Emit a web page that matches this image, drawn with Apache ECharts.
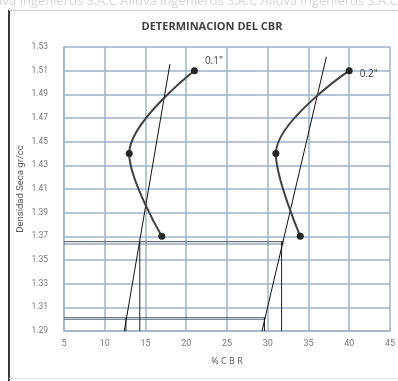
<!DOCTYPE html>
<html><head><meta charset="utf-8">
<script src="https://cdn.jsdelivr.net/npm/echarts@6/dist/echarts.min.js"></script>
<style>html,body{margin:0;padding:0;background:#fff}#c{width:398px;height:381px}</style>
</head><body><div id="c"></div>
<script>
// Curves (CBR %, dry density)
const cbr01 = [21, 13, 17];
const dens01 = [1.51, 1.44, 1.37];
const cbr02 = [40, 31, 34];
const dens02 = [1.51, 1.44, 1.37];
// Straight helper lines
const trend01X = [18.0, 12.4];
const trend01Y = [1.5156, 1.29];
const trend02X = [37.2, 29.3];
const trend02Y = [1.5218, 1.29];
const hLineLevels = [1.3655, 1.3635, 1.3012, 1.2998];
const hLineEnds = [32.0, 32.0, 29.7, 29.7];
const vLineX = [14.3, 31.7, 12.6, 29.6];
const vLineTop = [1.3655, 1.3655, 1.3012, 1.3012];
const xTicks = {min: 5, max: 45, interval: 5};
const yTicks = {min: 1.29, max: 1.53, interval: 0.02};
const labels = ['0.1"', '0.2"'];

const FONT = 'Open Sans, Liberation Sans';
const NARROW = 'Roboto, Liberation Sans';
const pts = (xs, ys) => xs.map((x, i) => [x, ys[i]]);
const chart = echarts.init(document.getElementById('c'));
const series = [];
const curveStyle = (xs, ys, lab, off) => ({
  type: 'line', smooth: 0.35, data: pts(xs, ys).map((p, i) => i === 0 ? {value: p, label: {show: true, formatter: lab, position: 'right', offset: off, color: '#404040', fontSize: 10, fontFamily: FONT}} : p),
  symbol: 'circle', symbolSize: 7, itemStyle: {color: '#262626'},
  lineStyle: {color: '#404040', width: 2}, z: 5
});
series.push(curveStyle(cbr01, dens01, labels[0], [2, -10]));
series.push(curveStyle(cbr02, dens02, labels[1], [2, 3]));
[[trend01X, trend01Y], [trend02X, trend02Y]].forEach(([xs, ys]) => series.push({
  type: 'line', data: pts(xs, ys), symbol: 'none', lineStyle: {color: '#111', width: 1}, z: 4
}));
hLineLevels.forEach((y, i) => series.push({
  type: 'line', data: [[xTicks.min, y], [hLineEnds[i], y]], symbol: 'none',
  lineStyle: {color: i % 2 === 0 ? '#4a5563' : '#6f7f90', width: 1}, z: 3
}));
vLineX.forEach((x, i) => series.push({
  type: 'line', data: [[x, yTicks.min], [x, vLineTop[i]]], symbol: 'none',
  lineStyle: {color: '#222', width: 1}, z: 3
}));

chart.setOption({
  animation: false,
  backgroundColor: '#fff',
  title: {text: 'DETERMINACION DEL CBR', left: 207, top: 16, textAlign: 'center',
    textStyle: {fontSize: 11, fontWeight: 'bold', color: '#404040', fontFamily: FONT}},
  grid: {left: 64, right: 8, top: 47, bottom: 50},
  graphic: [
    {type: 'text', left: -12, top: -5, silent: true, style: {text: 'lluva ingenieros S.A.C Alluva ingenieros S.A.C Alluva ingenieros S.A.C Alluva', fill: '#d6d6d6', fontSize: 13, fontFamily: FONT}},
    {type: 'line', shape: {x1: 9, y1: 10, x2: 9, y2: 381}, style: {stroke: '#3a3a3a', lineWidth: 2}},
    {type: 'line', shape: {x1: 9, y1: 10.5, x2: 398, y2: 10.5}, style: {stroke: '#c8c8c8', lineWidth: 1}},
    {type: 'line', shape: {x1: 9, y1: 378.5, x2: 398, y2: 378.5}, style: {stroke: '#e6e6e6', lineWidth: 1}}
  ],
  xAxis: {type: 'value', min: xTicks.min, max: xTicks.max, interval: xTicks.interval,
    name: '% C B R', nameLocation: 'middle', nameGap: 26, nameMoveOverlap: false,
    nameTextStyle: {fontSize: 9, color: '#595959', fontFamily: FONT},
    axisLine: {show: true, lineStyle: {color: '#9fb3c8', width: 1.5}}, axisTick: {show: false},
    axisLabel: {fontSize: 9, color: '#7a7a7a', margin: 8, fontFamily: NARROW},
    splitLine: {show: true, lineStyle: {color: '#9fb3c8', width: 1.5}}},
  yAxis: {type: 'value', min: yTicks.min, max: yTicks.max, interval: yTicks.interval,
    name: 'Densidad Seca gr/cc', nameLocation: 'middle', nameGap: 38, nameMoveOverlap: false,
    nameTextStyle: {fontSize: 9.5, color: '#595959', fontFamily: NARROW},
    axisLine: {show: true, lineStyle: {color: '#9fb3c8', width: 1.5}}, axisTick: {show: false},
    axisLabel: {fontSize: 8.5, color: '#7a7a7a', margin: 16, formatter: v => v.toFixed(2), fontFamily: NARROW},
    splitLine: {show: true, lineStyle: {color: '#9fb3c8', width: 1.5}}},
  series: series
});
</script></body></html>
